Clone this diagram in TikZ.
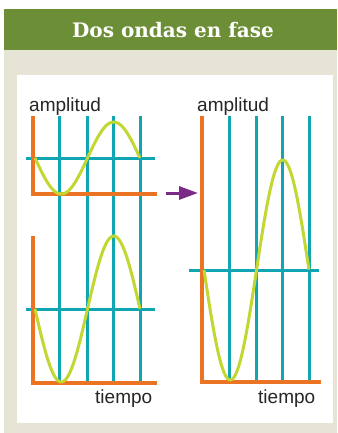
\documentclass[tikz,border=0pt]{standalone}
\usepackage{fontspec}
\setmainfont{Liberation Sans}
\newfontfamily\titlefont{DejaVu Serif}
\usepackage{tikz}
\usetikzlibrary{arrows.meta}
\definecolor{titlegreen}{HTML}{6B8E36}
\definecolor{panelbeige}{HTML}{E6E4D5}
\definecolor{axisorange}{HTML}{EB7324}
\definecolor{gridteal}{HTML}{10A5B3}
\definecolor{wavelime}{HTML}{C2D732}
\definecolor{arrowpurple}{HTML}{7C2A87}

\begin{document}
\begin{tikzpicture}[x=1pt, y=-1pt,
    axis/.style={axisorange, line width=3.5pt},
    gridline/.style={gridteal, line width=3pt},
    wave/.style={wavelime, line width=3pt, samples=80, smooth, domain=0:1},
    lbl/.style={font=\fontsize{19}{19}\selectfont, text=black!85, inner sep=0pt, anchor=base west}]
    \useasboundingbox (0,0) rectangle (337,433);
    % Frame
    \fill[titlegreen] (4,9) rectangle (337,50);
    \fill[panelbeige] (4,50) rectangle (337,433);
    \fill[white] (17,75) rectangle (333,423);
    \node[font=\titlefont\bfseries\fontsize{20}{20}\selectfont, text=white] (title) at (173,30) {Dos ondas en fase};

    % Left: two waves
    \foreach \x in {59,87,113,140}
        \draw[gridline] (\x,116) -- (\x,383);
    \draw[gridline] (26,158) -- (155,158);
    \draw[gridline] (26,309) -- (155,309);
    \draw[axis] (33,116) -- (33,194) -- (157,194);
    \draw[axis] (33,236) -- (33,383) -- (157,383);
    \draw[wave] plot ({35+105*\x}, {158+36*sin(360*\x)});
    \draw[wave] plot ({35+105*\x}, {309+73*sin(360*\x)});

    % Right: sum
    \foreach \x in {229,256,282,309}
        \draw[gridline] (\x,116) -- (\x,382);
    \draw[gridline] (189,270) -- (319,270);
    \draw[axis] (202,116) -- (202,382) -- (321,382);
    \draw[wave] plot ({204+105*\x}, {270+110*sin(360*\x)});

    % Labels
    \node[lbl] (amp left) at (29,111) {amplitud};
    \node[lbl] (amp right) at (197,111) {amplitud};
    \node[lbl] (time left) at (95,403) {tiempo};
    \node[lbl] (time right) at (258,403) {tiempo};

    % Arrow
    \coordinate (from) at (166,193);
    \coordinate (to) at (198,193);
    \draw[arrowpurple, line width=3pt, -{Triangle[length=19pt, width=13pt]}] (from) -- (to);
\end{tikzpicture}
\end{document}
